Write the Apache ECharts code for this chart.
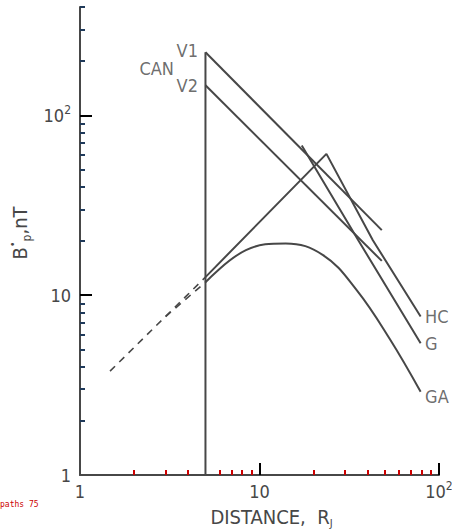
<!DOCTYPE html>
<html><head><meta charset="utf-8">
<script src="https://cdn.jsdelivr.net/npm/echarts@6/dist/echarts.min.js"></script>
<style>html,body{margin:0;padding:0;background:#fff}#c{width:452px;height:529px}#d{position:absolute;left:0;top:500px;font:8px monospace;color:#c00;width:200px;white-space:pre-wrap}</style>
</head><body><div id="c"></div><div id="d"></div>
<script>
const dbg = [];
function showDbg() { document.getElementById('d').textContent = dbg.join(' | '); }
window.onerror = function (m) { dbg.push('E:' + m); showDbg(); };

// ---- data ----
const xMajorTicks = [10, 100];
const xMinorTicks = [2, 3, 4, 6, 7, 8, 9, 20, 30, 40, 50, 60, 70, 80, 90];
const yMajorTicks = [10, 100];
const yMinorTicks = [2, 3, 4, 5, 6, 7, 8, 9, 20, 30, 40, 50, 60, 70, 80, 90, 200, 300, 400];
const xTickLabelValues = [1, 10, 100];
const yTickLabelValues = [1, 10, 100];
const xTickLabels = { 1: '1', 10: '10', 100: '10{s|2}' };
const yTickLabels = { 1: '1', 10: '10', 100: '10{s|2}' };

const canDist = [5, 5];
const canField = [1, 224];
const v1Dist = [5, 48];
const v1Field = [224, 23];
const v2Dist = [5, 48];
const v2Field = [147, 15.5];
const hcDist = [5, 23.6, 42.8, 79];
const hcField = [12.6, 61, 20.2, 7.6];
const gDist = [17.2, 35.5, 79];
const gField = [68, 20.2, 5.4];
const gaDist = [5, 8.4, 14, 22.6, 34.7, 53.2, 79];
const gaField = [11.8, 17.8, 19.4, 16.7, 10.7, 5.7, 2.9];
const extDist = [1.47, 5];
const extField = [3.78, 12.6];
const ext2Dist = [3.0, 5];
const ext2Field = [7.6, 11.8];

// ---- styles ----
const FONT = "'DejaVu Sans Condensed','Liberation Sans Narrow','DejaVu Sans',sans-serif";
const INK = '#474747';
const LW = 2;

const zip = (a, b) => a.map((v, i) => [v, b[i]]);

function lineSeries(name, d, f, extra) {
  return Object.assign({
    name: name, type: 'line', data: zip(d, f), symbol: 'none',
    lineStyle: { color: INK, width: LW }, silent: true, z: 3
  }, extra || {});
}

const labelPts = [
  { value: [v1Dist[0], v1Field[0]], name: 'V1', pos: 'left', dist: 7, off: [0, -2] },
  { value: [v2Dist[0], v2Field[0]], name: 'V2', pos: 'left', dist: 7, off: [0, 0] },
  { value: [canDist[1], Math.sqrt(v1Field[0] * v2Field[0])], name: 'CAN', pos: 'left', dist: 31, off: [0, 0] },
  { value: [hcDist[hcDist.length - 1], hcField[hcField.length - 1]], name: 'HC', pos: 'right', dist: 4, off: [0, 0] },
  { value: [gDist[gDist.length - 1], gField[gField.length - 1]], name: 'G', pos: 'right', dist: 4, off: [0, 0] },
  { value: [gaDist[gaDist.length - 1], gaField[gaField.length - 1]], name: 'GA', pos: 'right', dist: 4, off: [0, 5] }
];

const tickRich = { s: { fontSize: 12, verticalAlign: 'top', lineHeight: 22, fontFamily: FONT, color: INK } };

function minorAxis(max, ticks, pos, color) {
  return {
    type: 'log', logBase: 10, min: 1, max: max, position: pos, offset: 0,
    axisLine: { show: false },
    axisLabel: { show: false },
    splitLine: { show: false },
    axisTick: { show: true, inside: true, length: 5, customValues: ticks, lineStyle: { color: color, width: LW } }
  };
}

try {
const chart = echarts.init(document.getElementById('c'), null, { renderer: 'svg' });
chart.setOption({
  animation: false,
  backgroundColor: '#ffffff',
  textStyle: { fontFamily: FONT, color: INK },
  grid: { left: 80, right: 13, top: 7, bottom: 54, containLabel: false, outerBoundsMode: 'none' },
  xAxis: [{
    type: 'log', logBase: 10, min: 1, max: 100,
    axisLine: { show: true, onZero: false, lineStyle: { color: INK, width: LW } },
    axisTick: { show: true, inside: true, length: 12, customValues: xMajorTicks, lineStyle: { color: '#000000', width: LW } },
    splitLine: { show: false },
    axisLabel: {
      margin: 5, fontSize: 18, color: INK, fontFamily: FONT, lineHeight: 22,
      customValues: xTickLabelValues,
      formatter: v => xTickLabels[Math.round(v)] || '', rich: tickRich,
      showMinLabel: true, showMaxLabel: true
    },
    name: 'DISTANCE,  R{j|J}', nameLocation: 'middle', nameGap: 28,
    nameTextStyle: {
      fontSize: 20, color: INK, fontFamily: FONT, padding: [0, 0, 0, 24],
      rich: { j: { fontSize: 11, verticalAlign: 'bottom', lineHeight: 24, fontFamily: FONT, color: INK } }
    }
  }, minorAxis(100, xMinorTicks, 'bottom', '#cc0000')],
  yAxis: [{
    type: 'log', logBase: 10, min: 1, max: 400,
    axisLine: { show: true, onZero: false, lineStyle: { color: INK, width: LW } },
    axisTick: { show: true, inside: true, length: 12, customValues: yMajorTicks, lineStyle: { color: '#000000', width: LW } },
    splitLine: { show: false },
    axisLabel: {
      margin: 9, fontSize: 18, color: INK, fontFamily: FONT, lineHeight: 22,
      customValues: yTickLabelValues,
      formatter: v => yTickLabels[Math.round(v)] || '', rich: tickRich
    },
    name: '{b|B}{d|•}{p|p}{b|,nT}', nameLocation: 'middle', nameGap: 46,
    nameTextStyle: {
      fontSize: 20, color: INK, fontFamily: FONT, padding: [0, 0, 0, 16],
      rich: {
        b: { fontSize: 20, lineHeight: 26, fontFamily: FONT, color: INK },
        d: { fontSize: 11, verticalAlign: 'top', lineHeight: 26, fontFamily: FONT, color: INK },
        p: { fontSize: 12, verticalAlign: 'bottom', lineHeight: 26, fontFamily: FONT, color: INK }
      }
    }
  }, minorAxis(400, yMinorTicks, 'left', '#1f3a5a')],
  series: [
    lineSeries('CAN', canDist, canField),
    lineSeries('V1', v1Dist, v1Field),
    lineSeries('V2', v2Dist, v2Field),
    lineSeries('HC', hcDist, hcField),
    lineSeries('G', gDist, gField),
    lineSeries('GA', gaDist, gaField, { smooth: 0.4 }),
    lineSeries('ext1', extDist, extField, { lineStyle: { color: INK, width: 1.6, type: [7, 6] } }),
    lineSeries('ext2', ext2Dist, ext2Field, { lineStyle: { color: INK, width: 1.6, type: [7, 6] } }),
    {
      type: 'scatter', silent: true, z: 5, symbolSize: 1, clip: false,
      itemStyle: { color: 'rgba(0,0,0,0)' },
      data: labelPts.map(d => ({
        value: d.value, name: d.name,
        label: {
          show: true, formatter: d.name, position: d.pos, distance: d.dist, offset: d.off,
          fontSize: 18, color: INK, fontFamily: FONT
        }
      }))
    }
  ]
});
const svg = document.querySelector('#c svg');
if (svg) dbg.push('paths ' + svg.querySelectorAll('path').length);
} catch (e) { dbg.push('ERR ' + e.message); }
showDbg();
</script>
</body></html>
